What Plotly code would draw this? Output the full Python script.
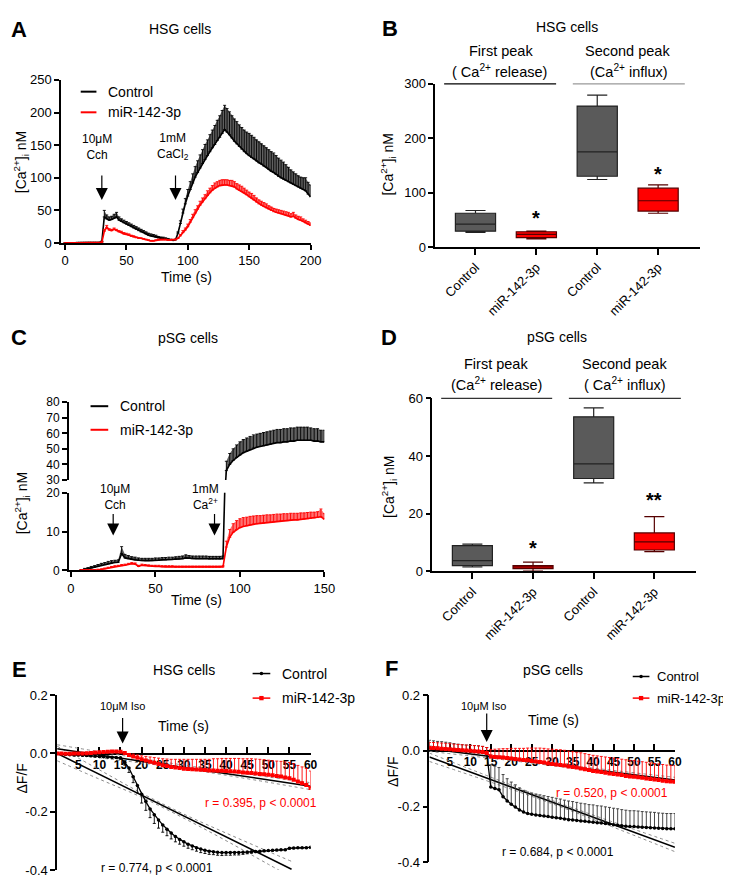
"""
Ca2+ imaging / cAMP figure (panels A-F) rebuilt with plotly.
Layout is done in pixel space of the 731x877 page and converted to paper coords.
"""
import plotly.graph_objects as go

W, H = 731, 877
FONT = 'Liberation Sans, Arial, sans-serif'
GRAY_BOX = '#5a5a5a'
RED = '#ff0000'


def fx(p):
    return p / W


def fy(p):
    return 1 - p / H


# ── Panel A: HSG cells, [Ca2+]i trace (2 s steps) ────────────────────────────
TIME_A = list(range(0, 201, 2))
CTRL_A = [0, 0, 0, 0, 0, 1, 1, 1, 1, 1, 1, 1, 1, 1, 1,
          2, 40, 37, 35, 36, 38, 40, 35, 33, 31, 29, 27, 25, 23, 21, 19, 17, 16, 14, 12,
          11, 10, 9, 8, 7, 7, 6, 5, 5, 4, 5,
          15, 30, 46, 60, 72, 82, 92, 101, 108, 115, 122, 128, 134, 140, 146, 151, 157, 162, 168, 174,
          170, 166, 161, 156, 152, 148, 144, 140, 137, 134, 131, 129, 126, 123, 121, 118, 116, 113,
          110, 108, 105, 102, 100, 98, 96, 94, 92, 90, 88, 86, 84, 82, 80, 75, 71]
CTRL_A_SEM = [0] * 15 + [
    1, 10, 6, 5, 5, 6, 7, 5, 4, 4, 4, 4, 4, 4, 4, 4, 4, 3, 3, 3, 3, 3, 3, 2, 2, 2, 2, 2, 1, 1, 1,
    2, 4, 6, 8, 10, 12, 14, 16, 18, 20, 21, 23, 24, 26, 27, 29, 31, 33, 35, 37,
    36, 35, 34, 34, 34, 33, 33, 33, 33, 34, 34, 33, 32, 32, 31, 31, 30, 30, 30, 30,
    29, 28, 27, 26, 24, 22, 20, 19, 18, 17, 17, 18, 20, 18, 18]
MIR_A = [0] * 15 + [
    1, 18, 24, 20, 19, 21, 19, 17, 16, 14, 13, 12, 10, 9, 8, 7, 7, 6, 5, 4, 3, 3, 4, 5, 5, 5, 5, 4, 4, 5, 5,
    7, 11, 16, 20, 25, 32, 39, 46, 52, 58, 63, 68, 73, 77, 81, 84, 86, 88, 89, 89,
    89, 88, 88, 86, 83, 81, 79, 77, 74, 71, 69, 66, 63, 60, 58, 56, 54, 52, 50, 48,
    47, 46, 45, 44, 43, 42, 40, 41, 38, 36, 35, 33, 31, 29, 27]
MIR_A_SEM = [0] * 15 + [
    1, 3, 3, 2, 2, 2, 2, 2, 2, 2, 2, 2, 2, 2, 1, 1, 1, 1, 1, 1, 1, 1, 1, 1, 1, 1, 1, 1, 1, 1, 1,
    1, 2, 3, 3, 4, 4, 5, 5, 5, 6, 6, 6, 7, 7, 7, 8, 8, 8, 8, 8,
    8, 8, 8, 8, 8, 8, 8, 7, 7, 7, 7, 7, 6, 6, 6, 6, 6, 5, 5, 5,
    5, 5, 5, 5, 5, 5, 5, 6, 5, 5, 5, 4, 4, 4, 4]

# ── Panel C: pSG cells, [Ca2+]i trace (broken y axis) ────────────────────────
TIME_C = list(range(6, 151, 2))
CTRL_C = [0.0, 0.2, 0.4, 0.6, 0.8, 1.0, 1.3, 1.5, 1.7, 1.9, 2.0, 2.1, 4.3, 3.2, 3.0, 2.8, 2.7, 2.6,
          2.5, 2.5, 2.5, 2.5, 2.6, 2.6, 2.7, 2.7, 2.8, 2.8, 2.9, 2.9, 3.0, 3.2, 3.1, 3.0, 3.0, 3.0,
          3.0, 3.0, 2.9, 2.9, 2.9, 2.9, 3.0,
          36, 40, 42.5, 44.5, 46, 47.5, 48.5, 49.5, 50.5, 51, 51.5, 52, 52.5, 53, 53.5, 54, 54,
          54.5, 54.5, 55, 55, 55.5, 55.5, 55.5, 55.5, 55.5, 55, 55, 54.5, 54.5]
CTRL_C_SEM = [0.2, 0.3, 0.3, 0.4, 0.4, 0.5, 0.5, 0.5, 0.6, 0.6, 0.6, 0.6, 1.8,
              0.9, 0.8, 0.7, 0.7, 0.6, 0.6, 0.6, 0.6, 0.6, 0.6, 0.6, 0.6, 0.6, 0.6, 0.6, 0.6,
              0.7, 0.7, 0.8, 0.7, 0.7, 0.7, 0.7, 0.7, 0.7, 0.7, 0.7, 0.7, 0.7, 0.7,
              6, 7, 7.5, 8, 8.5, 8.5, 8.5, 8.5, 8.5, 8.5, 8.5, 8.5, 8.5, 8.5, 8.5, 8.5, 8.5,
              8.5, 8.5, 8.5, 8.5, 8.5, 8.5, 8.5, 8.5, 8.0, 8.0, 8.0, 7.5, 7.5]
MIR_C = [0, 0, 0, 0, 0, 0.1, 0.2, 0.4, 0.6, 0.8, 1.0, 1.1,
         1.2, 1.3, 1.5, 1.7, 1.6, 1.0, 1.3, 1.2, 1.1, 1.0,
         1.0, 1.0, 0.9, 0.9, 0.9, 0.9, 0.8, 0.8, 0.8, 0.8,
         0.8, 0.8, 0.8, 0.8, 0.8, 0.8, 0.8, 0.8, 0.8, 0.8, 0.9,
         6.0, 8.5, 9.8, 10.5, 11.0, 11.3, 11.5, 11.7, 11.9, 12.0, 12.1, 12.2, 12.3, 12.4, 12.5,
         12.6, 12.7, 12.8, 12.8, 12.9, 13.0, 13.0, 13.1, 13.2, 13.3, 13.4, 13.5, 13.6, 13.8, 13.2]
MIR_C_SEM = [0.2] * 12 + [0.3] * 31 + [
    1.5, 2.0, 2.2, 2.3, 2.3, 2.3, 2.2, 2.2, 2.1, 2.1, 2.0, 2.0, 2.0, 1.9, 1.9,
    1.9, 1.8, 1.8, 1.8, 1.8, 1.7, 1.7, 1.7, 1.6, 1.6, 1.6, 1.5, 1.5, 2.0, 1.4]

# ── Panels B / D: box plots (first peak / second peak) ──────────────────────
BOX_POS = [0, 1, 2, 3]
BOX_LABELS = ['Control', 'miR-142-3p', 'Control', 'miR-142-3p']
BOX_FILL = [GRAY_BOX, RED, GRAY_BOX, RED]
BOX_EDGE = ['#222222', '#550000', '#222222', '#550000']
B_LOW = [27, 15, 124, 62]
B_Q1 = [29, 17, 130, 66]
B_MED = [42, 23, 175, 85]
B_Q3 = [62, 28, 259, 108]
B_HIGH = [67, 29, 279, 114]
B_STARS = ['', '*', '', '*']
B_STAR_Y = [0, 54, 0, 135]
D_LOW = [1.5, 0.1, 30.7, 6.8]
D_Q1 = [2.0, 0.9, 32.2, 7.4]
D_MED = [3.7, 1.5, 37.3, 10.2]
D_Q3 = [8.9, 2.0, 53.6, 13.3]
D_HIGH = [9.4, 3.2, 56.7, 19.0]
D_STARS = ['', '*', '', '**']
D_STAR_Y = [0, 8.2, 0, 24.9]

# ── Panels E / F: ΔF/F after isoproterenol (1 s steps) ───────────────────────
TIME_EF = list(range(0, 61))
E_CTRL = [0.000, -0.002, -0.003, -0.004, -0.005, -0.005, -0.006, -0.007, -0.008, -0.009,
          -0.010, -0.011, -0.012, -0.013, -0.014,
          -0.015, -0.030, -0.050, -0.080, -0.110,
          -0.140, -0.165, -0.190, -0.210, -0.228, -0.245, -0.260, -0.273, -0.285, -0.295,
          -0.303, -0.311, -0.317, -0.323, -0.328, -0.332, -0.335, -0.337, -0.339, -0.340,
          -0.340, -0.340, -0.340, -0.340, -0.339, -0.338, -0.337, -0.336, -0.335, -0.334,
          -0.333, -0.332, -0.331, -0.330, -0.330, -0.325, -0.324, -0.323, -0.323, -0.323, -0.322]
E_CTRL_SEM = [0.003] * 15 + [
    0.005, 0.010, 0.015, 0.020, 0.025,
    0.030, 0.030, 0.030, 0.030, 0.028, 0.025, 0.022, 0.020, 0.018, 0.016,
    0.015, 0.014, 0.013, 0.012, 0.012, 0.011, 0.011, 0.010, 0.010, 0.010,
    0.009, 0.009, 0.008, 0.008, 0.007, 0.006, 0.005, 0.004, 0.003, 0.003] + [0.003] * 11
E_MIR = [0.000, 0.000, -0.001, -0.001, 0.000, 0.000, 0.000, 0.001, 0.002, 0.003,
         0.004, 0.005, 0.006, 0.007, 0.007,
         0.006, 0.002, -0.005, -0.010, -0.015,
         -0.020, -0.024, -0.028, -0.032, -0.036, -0.040, -0.043, -0.046, -0.048, -0.050,
         -0.052, -0.053, -0.054, -0.055, -0.056, -0.057, -0.058, -0.058, -0.059, -0.059,
         -0.060, -0.061, -0.062, -0.063, -0.065, -0.066, -0.067, -0.069, -0.070, -0.071,
         -0.073, -0.075, -0.077, -0.079, -0.082, -0.085, -0.090, -0.096, -0.102, -0.108, -0.118]
E_MIR_SEM = [0.003] * 17 + [
    0.005, 0.008, 0.010, 0.012, 0.014, 0.016, 0.018, 0.020, 0.022, 0.024, 0.026, 0.028, 0.030,
    0.032, 0.033, 0.034, 0.035, 0.036, 0.037, 0.038, 0.040, 0.041, 0.042,
    0.043, 0.044, 0.045, 0.046, 0.047, 0.048, 0.049, 0.050, 0.050, 0.050,
    0.050, 0.050, 0.051, 0.052, 0.053, 0.054, 0.055, 0.055, 0.056, 0.057, 0.058]
F_CTRL = [0.010, 0.010, 0.009, 0.008, 0.007, 0.005, 0.003, 0.001, 0.000, -0.001,
          -0.002, -0.003, -0.004, -0.006, -0.008,
          -0.130, -0.135, -0.140, -0.165, -0.180,
          -0.192, -0.202, -0.212, -0.220, -0.225, -0.228, -0.230, -0.232, -0.234, -0.236,
          -0.238, -0.240, -0.242, -0.245, -0.247, -0.248, -0.250, -0.252, -0.253, -0.255,
          -0.256, -0.258, -0.259, -0.261, -0.263, -0.265, -0.267, -0.269, -0.271, -0.272,
          -0.272, -0.273, -0.274, -0.275, -0.276, -0.277, -0.278, -0.279, -0.280, -0.280, -0.280]
F_CTRL_SEM = [0.028, 0.026, 0.025, 0.025, 0.024, 0.024, 0.023, 0.023, 0.022, 0.022,
              0.022, 0.022, 0.022, 0.022, 0.020,
              0.080, 0.080, 0.080, 0.080, 0.080,
              0.080, 0.080, 0.079, 0.078, 0.077, 0.076, 0.075, 0.074, 0.073, 0.072,
              0.071, 0.070, 0.069, 0.068, 0.067, 0.066, 0.065, 0.064, 0.063, 0.062,
              0.062, 0.061, 0.061, 0.060, 0.060, 0.059, 0.059, 0.058, 0.058, 0.057,
              0.057, 0.057, 0.056, 0.056, 0.056, 0.056, 0.055, 0.055, 0.055, 0.055, 0.055]
F_MIR = [0.010, 0.010, 0.009, 0.008, 0.007, 0.006, 0.004, 0.003, 0.002, 0.001,
         0.000, -0.001, -0.002, -0.004, -0.008,
         -0.020, -0.022, -0.023, -0.024, -0.026,
         -0.027, -0.029, -0.031, -0.033, -0.034, -0.036, -0.038, -0.040, -0.042, -0.045,
         -0.047, -0.049, -0.051, -0.053, -0.056, -0.058, -0.060, -0.063, -0.066, -0.069,
         -0.072, -0.074, -0.076, -0.079, -0.081, -0.083, -0.085, -0.087, -0.090, -0.092,
         -0.093, -0.095, -0.097, -0.099, -0.101, -0.103, -0.105, -0.107, -0.109, -0.110, -0.111]
F_MIR_SEM = [0.020] * 15 + [
    0.025, 0.028, 0.030, 0.032, 0.034,
    0.036, 0.038, 0.040, 0.042, 0.044, 0.046, 0.048, 0.050, 0.051, 0.052,
    0.053, 0.054, 0.055, 0.055, 0.055, 0.055, 0.055, 0.056, 0.056, 0.056,
    0.056, 0.056, 0.056, 0.057, 0.057, 0.057, 0.057, 0.057, 0.058, 0.058] + [0.058] * 11

# linear fits (solid) with 95% CI (dotted)
FIT_T3 = [0, 30, 60]
E_FIT_CTRL_T = [0, 10, 20, 30, 40, 50, 55.5]
E_FIT_CTRL = [0.000, -0.072, -0.143, -0.215, -0.286, -0.358, -0.397]
E_CI_CTRL_HI = [0.025, -0.056, -0.136, -0.208, -0.273, -0.336, -0.370]
E_CI_CTRL_LO = [-0.025, -0.088, -0.150, -0.222, -0.299, -0.380, -0.424]
E_FIT_MIR = [0.016, -0.046, -0.112]
E_CI_MIR_HI = [0.030, -0.040, -0.100]
E_CI_MIR_LO = [0.002, -0.052, -0.124]
F_FIT_CTRL = [-0.022, -0.184, -0.346]
F_CI_CTRL_HI = [-0.008, -0.178, -0.332]
F_CI_CTRL_LO = [-0.038, -0.190, -0.362]
F_FIT_MIR = [0.008, -0.0485, -0.105]
F_CI_MIR_HI = [0.018, -0.044, -0.095]
F_CI_MIR_LO = [-0.002, -0.053, -0.115]

fig = go.Figure()


def band(t, m, s, xa, ya, fill):
    hi = [a + b for a, b in zip(m, s)]
    return go.Scatter(x=t + t[::-1], y=hi + m[::-1], mode='lines', fill='toself',
                      fillcolor=fill, line=dict(width=0), xaxis=xa, yaxis=ya,
                      hoverinfo='skip', showlegend=False)


def trace(t, m, s, xa, ya, color, ecolor, up=True, marker=None, lw=1.6):
    zeros = [0] * len(s)
    err = dict(type='data', symmetric=False, array=s if up else zeros,
               arrayminus=zeros if up else s, color=ecolor, thickness=0.9, width=1.5)
    kw = dict(mode='lines')
    if marker:
        kw = dict(mode='lines+markers', marker=marker)
    return go.Scatter(x=t, y=m, line=dict(color=color, width=lw), error_y=err,
                      xaxis=xa, yaxis=ya, showlegend=False, **kw)


# A
fig.add_trace(band(TIME_A, CTRL_A, CTRL_A_SEM, 'x', 'y', '#606060'))
fig.add_trace(trace(TIME_A, CTRL_A, CTRL_A_SEM, 'x', 'y', 'black', 'black'))
fig.add_trace(band(TIME_A, MIR_A, MIR_A_SEM, 'x', 'y', '#ff7070'))
fig.add_trace(trace(TIME_A, MIR_A, MIR_A_SEM, 'x', 'y', RED, RED))

# C (lower and upper segment of the broken axis)
for ya in ('y3', 'y4'):
    fig.add_trace(band(TIME_C, CTRL_C, CTRL_C_SEM, 'x3', ya, '#606060'))
    fig.add_trace(trace(TIME_C, CTRL_C, CTRL_C_SEM, 'x3', ya, 'black', 'black'))
fig.add_trace(band(TIME_C, MIR_C, MIR_C_SEM, 'x3', 'y3', '#ff7070'))
fig.add_trace(trace(TIME_C, MIR_C, MIR_C_SEM, 'x3', 'y3', RED, RED))

# B / D boxes
for xa, ya, low, q1, med, q3, high in (('x2', 'y2', B_LOW, B_Q1, B_MED, B_Q3, B_HIGH),
                                       ('x4', 'y5', D_LOW, D_Q1, D_MED, D_Q3, D_HIGH)):
    for i, pos in enumerate(BOX_POS):
        fig.add_trace(go.Box(x=[pos], q1=[q1[i]], median=[med[i]], q3=[q3[i]],
                             lowerfence=[low[i]], upperfence=[high[i]], width=0.66,
                             whiskerwidth=0.5, fillcolor=BOX_FILL[i],
                             line=dict(color=BOX_EDGE[i], width=1.2), boxpoints=False,
                             xaxis=xa, yaxis=ya, showlegend=False, hoverinfo='skip'))

# E / F fits under the data
for xa, ya, fits in (
        ('x5', 'y6', [(E_FIT_CTRL_T, E_FIT_CTRL, E_CI_CTRL_HI, E_CI_CTRL_LO),
                      (FIT_T3, E_FIT_MIR, E_CI_MIR_HI, E_CI_MIR_LO)]),
        ('x6', 'y7', [(FIT_T3, F_FIT_CTRL, F_CI_CTRL_HI, F_CI_CTRL_LO),
                      (FIT_T3, F_FIT_MIR, F_CI_MIR_HI, F_CI_MIR_LO)])):
    for t, fit, hi, lo in fits:
        for yy in (hi, lo):
            fig.add_trace(go.Scatter(x=t, y=yy, mode='lines', line=dict(color='#8a8a8a', width=1, dash='dot'),
                                     line_shape='spline', xaxis=xa, yaxis=ya, showlegend=False))
        fig.add_trace(go.Scatter(x=[t[0], t[-1]], y=[fit[0], fit[-1]], mode='lines',
                                 line=dict(color='black', width=1.5), xaxis=xa, yaxis=ya, showlegend=False))

dot = dict(symbol='circle', size=3.5, color='black')
sq = dict(symbol='square', size=4, color=RED)
fig.add_trace(trace(TIME_EF, E_CTRL, E_CTRL_SEM, 'x5', 'y6', 'black', 'black', up=False, marker=dot, lw=1.3))
fig.add_trace(trace(TIME_EF, E_MIR, E_MIR_SEM, 'x5', 'y6', RED, RED, marker=sq, lw=1.5))
fig.add_trace(trace(TIME_EF, F_CTRL, F_CTRL_SEM, 'x6', 'y7', 'black', '#333333', marker=dot, lw=1.3))
fig.add_trace(trace(TIME_EF, F_MIR, F_MIR_SEM, 'x6', 'y7', RED, RED, marker=sq, lw=1.5))

# ── axes ─────────────────────────────────────────────────────────────────────
AX = dict(showline=True, linecolor='black', linewidth=1.6, ticks='outside', ticklen=5,
          tickwidth=1.5, tickcolor='black', showgrid=False, zeroline=False,
          tickfont=dict(size=13, color='black', family=FONT))
SMALL = dict(size=12, color='black', family=FONT)
EF_Y = dict(tickvals=[-0.4, -0.2, 0, 0.2], ticktext=['-0.4', '-0.2', '0.0', '0.2'], range=[-0.4, 0.2])
EF_X = dict(AX, tickvals=list(range(5, 61, 5)), range=[0, 60], ticks='inside', ticklen=6,
            layer='below traces', anchor='free',
            tickfont=dict(size=12, color='black', family=FONT, weight='bold'))
BOX_X = dict(AX, range=[-0.66, 3.68], tickvals=BOX_POS, ticktext=BOX_LABELS, tickangle=-45, ticklen=6)

fig.update_layout(
    xaxis=dict(AX, domain=[fx(52), fx(306)], range=[-3.2, 200], tickvals=[0, 50, 100, 150, 200], anchor='y'),
    yaxis=dict(AX, domain=[fy(232), fy(66)], range=[0, 250], dtick=50, anchor='x'),
    xaxis2=dict(BOX_X, domain=[fx(433), fx(702)], anchor='y2'),
    yaxis2=dict(AX, domain=[fy(236), fy(70)], range=[0, 300], tickvals=[0, 100, 200, 300], anchor='x2'),
    xaxis3=dict(AX, domain=[fx(60), fx(320)], range=[-1.2, 150], tickvals=[0, 50, 100, 150], anchor='y3'),
    yaxis3=dict(AX, domain=[fy(565), fy(486)], range=[0, 20], tickvals=[0, 10, 20], anchor='x3',
                tickfont=SMALL),
    yaxis4=dict(AX, domain=[fy(473), fy(394)], range=[30, 80], dtick=10, anchor='x3', tickfont=SMALL),
    xaxis4=dict(BOX_X, domain=[fx(430), fx(698)], anchor='y5'),
    yaxis5=dict(AX, domain=[fy(566), fy(390)], range=[0, 60], tickvals=[0, 20, 40, 60], anchor='x4'),
    xaxis5=dict(EF_X, domain=[fx(48), fx(306)], position=fy(752)),
    yaxis6=dict(AX, domain=[fy(870), fy(692)], anchor='x5', **EF_Y),
    xaxis6=dict(EF_X, domain=[fx(427), fx(677)], position=fy(749)),
    yaxis7=dict(AX, domain=[fy(862), fy(692)], anchor='x6', **EF_Y),
)

# ── text, arrows, legends ────────────────────────────────────────────────────
ann = []


def txt(text, x, y, size=14, color='black', xanchor='center', angle=0, bold=False):
    ann.append(dict(text=text, x=fx(x), y=fy(y), xref='paper', yref='paper', showarrow=False,
                    xanchor=xanchor, yanchor='middle', textangle=angle,
                    font=dict(size=size, color=color, family=FONT, weight='bold' if bold else 'normal')))


def arrow(x, y, xa, ya, length):
    ann.append(dict(text='', x=x, y=y, xref=xa, yref=ya, ax=0, ay=-length, axref='pixel', ayref='pixel',
                    showarrow=True, arrowhead=2, arrowsize=2, arrowwidth=1.2, arrowcolor='black'))


CA = '[Ca<sup>2+</sup>]<sub>i</sub> nM'
for letter, x, y in (('A', 9, 15), ('B', 387, 14), ('C', 9, 328), ('D', 386, 328), ('E', 10, 666), ('F', 388, 665)):
    txt(letter, x, y, size=22, bold=True)
for title, x, y in (('HSG cells', 173, 14), ('HSG cells', 567, 12), ('pSG cells', 181, 329),
                    ('pSG cells', 557, 328), ('HSG cells', 177, 666), ('pSG cells', 553, 666)):
    txt(title, x, y)

# A
txt(CA, 12, 150, angle=-90)
txt('Time (s)', 180, 267)
txt('10μM<br>Cch', 89, 134, size=12)
txt('1mM<br>CaCl<sub>2</sub>', 166, 134, size=12)
arrow(30, 66, 'x', 'y', 26)
arrow(90, 66, 'x', 'y', 26)
txt('Control', 98, 78, xanchor='left')
txt('miR-142-3p', 98, 99, xanchor='left')

# B
txt(CA, 385, 152, angle=-90)
txt('First peak', 500, 37, size=14.5)
txt('( Ca<sup>2+</sup> release)', 498, 57, size=14.5)
txt('Second peak', 629, 37, size=14.5)
txt('(Ca<sup>2+</sup> influx)', 630, 57, size=14.5)
for i, s in enumerate(B_STARS):
    if s:
        ann.append(dict(text=s, x=BOX_POS[i], y=B_STAR_Y[i], xref='x2', yref='y2', showarrow=False,
                        font=dict(size=20, color='black', family=FONT, weight='bold')))

# C
txt(CA, 13, 497, angle=-90)
txt('Time (s)', 190, 595)
txt('10μM<br>Cch', 107, 490, size=12)
txt('1mM<br>Ca<sup>2+</sup>', 199, 490, size=12)
arrow(25, 9, 'x3', 'y3', 23)
arrow(85, 9, 'x3', 'y3', 23)
txt('Control', 110, 398, xanchor='left')
txt('miR-142-3p', 110, 422, xanchor='left')

# D
txt(CA, 386, 480, angle=-90)
txt('First peak', 495, 355, size=14.5)
txt('(Ca<sup>2+</sup> release)', 495, 375, size=14.5)
txt('Second peak', 626, 355, size=14.5)
txt('( Ca<sup>2+</sup> influx)', 626, 375, size=14.5)
for i, s in enumerate(D_STARS):
    if s:
        ann.append(dict(text=s, x=BOX_POS[i], y=D_STAR_Y[i], xref='x4', yref='y5', showarrow=False,
                        font=dict(size=20, color='black', family=FONT, weight='bold')))

# E
txt('ΔF/F', 12, 777, angle=-90)
txt('Time (s)', 177, 723)
txt('10μM Iso', 115, 703, size=11)
arrow(15.5, 0.034, 'x5', 'y6', 27)
txt('r = 0.395, p < 0.0001', 256, 802, size=12, color=RED)
txt('r = 0.774, p < 0.0001', 150, 868, size=12)
txt('Control', 275, 670, xanchor='left')
txt('miR-142-3p', 275, 695, xanchor='left')

# F
txt('ΔF/F', 390, 770, angle=-90)
txt('Time (s)', 553, 717)
txt('10μM Iso', 482, 703, size=11)
arrow(14, 0.032, 'x6', 'y7', 30)
txt('r = 0.520, p < 0.0001', 613, 792, size=12, color=RED)
txt('r = 0.684, p < 0.0001', 558, 852, size=12)
txt('Control', 657, 673, size=13, xanchor='left')
txt('miR-142-3p', 657, 695, size=13, xanchor='left')

shapes = []


def hline(x0, x1, y, color='black', width=2):
    shapes.append(dict(type='line', xref='paper', yref='paper', x0=fx(x0), x1=fx(x1),
                       y0=fy(y), y1=fy(y), line=dict(color=color, width=width)))


def mark(x, y, kind, color, r=2.2):
    shapes.append(dict(type=kind, xref='paper', yref='paper', x0=fx(x - r), x1=fx(x + r),
                       y0=fy(y + r), y1=fy(y - r), fillcolor=color, line=dict(width=0)))


# legend samples
hline(72, 88, 78)
hline(72, 88, 99, RED)
hline(82, 100, 398)
hline(82, 100, 422, RED)
hline(247, 265, 670, width=1.5)
mark(256, 670, 'circle', 'black', 1.8)
hline(247, 265, 695, RED, 1.5)
mark(256, 695, 'rect', RED)
hline(634, 651, 673, width=1.5)
mark(642.5, 673, 'circle', 'black', 1.8)
hline(634, 651, 695, RED, 1.5)
mark(642.5, 695, 'rect', RED)
# group brackets in B and D
hline(442, 556, 70, width=1.2)
hline(573, 687, 70, '#999999', 1.2)
hline(439, 552, 390, '#333333', 1.2)
hline(569, 683, 390, '#333333', 1.2)

fig.update_layout(
    width=W, height=H, margin=dict(l=0, r=0, t=0, b=0),
    paper_bgcolor='white', plot_bgcolor='white',
    font=dict(family=FONT, color='black'),
    showlegend=False, annotations=ann, shapes=shapes,
)

fig.write_html('out.html')
